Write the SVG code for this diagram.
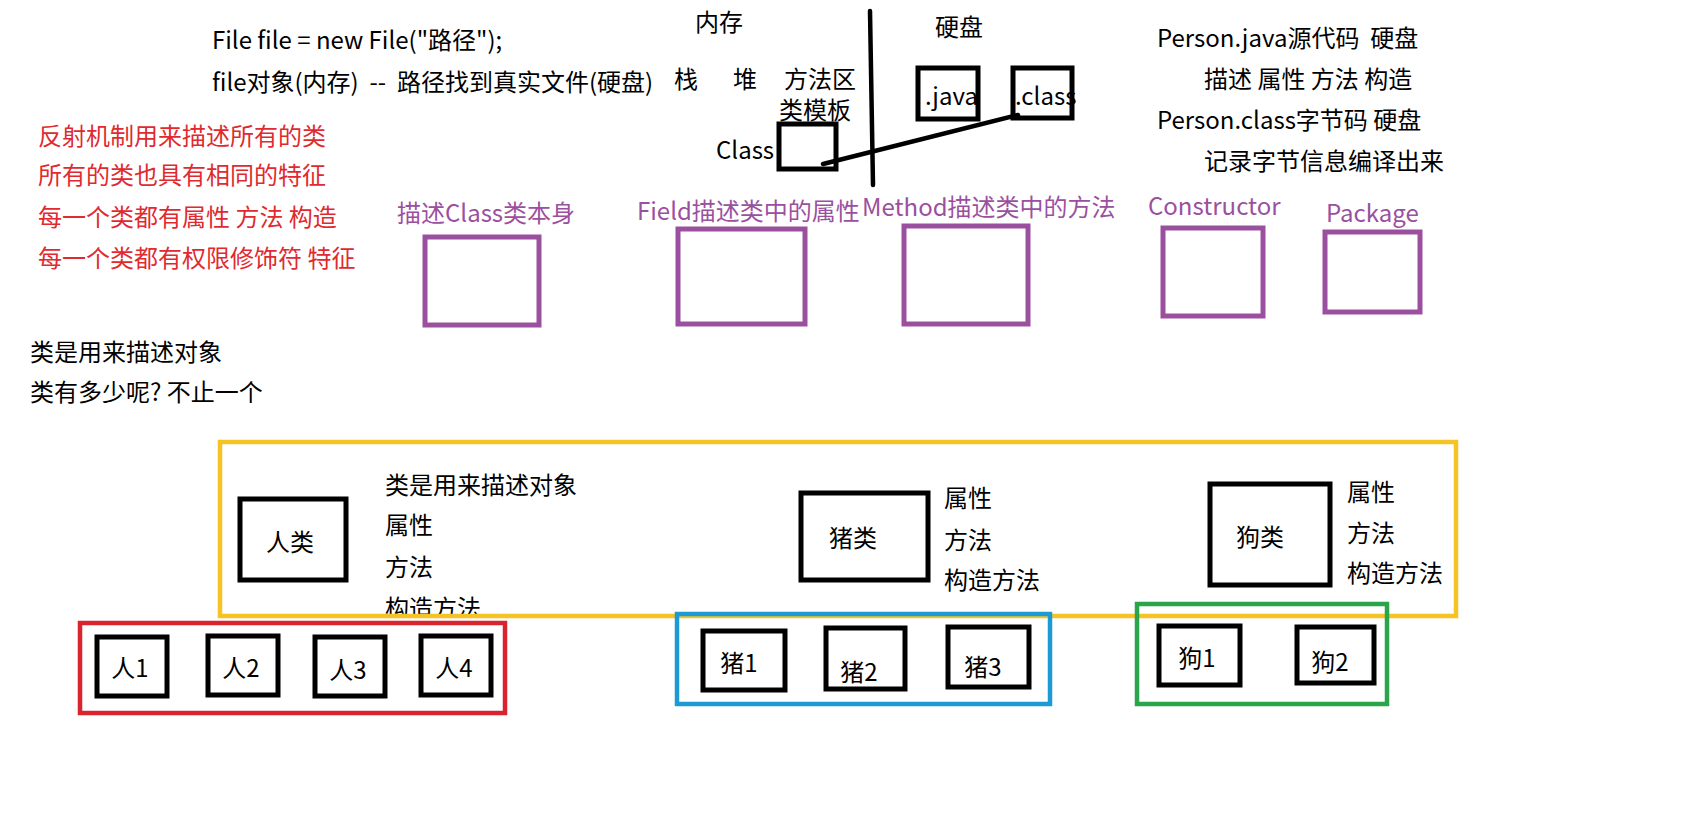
<svg xmlns="http://www.w3.org/2000/svg" width="1707" height="822" viewBox="0 0 1707 822">
<defs>
<style>
text{font-family:"Noto Sans CJK SC","Noto Sans",sans-serif;font-size:24px;fill:#000;white-space:pre}
.red{fill:#e02a2f}
.pur{fill:#9b509f}
.mid{text-anchor:middle}
.bk{fill:none;stroke:#000;stroke-width:5}
.pbox{fill:none;stroke:#9b509f;stroke-width:5}
.ln{stroke:#000;stroke-width:4.5;stroke-linecap:round;fill:none}
</style>
<clipPath id="clipY"><rect x="0" y="0" width="1707" height="614"/></clipPath>
</defs>
<rect width="1707" height="822" fill="#fff"/>

<g id="top-text">
<text x="212" y="49">File file = new File("路径");</text>
<text x="212" y="91">file对象(内存)  --  路径找到真实文件(硬盘)</text>
<text x="695" y="31">内存</text>
<text x="935" y="36">硬盘</text>
<text x="674" y="88">栈</text>
<text x="733" y="88">堆</text>
<text x="784" y="88">方法区</text>
<text x="779" y="119">类模板</text>
<text x="716" y="159">Class</text>
</g>

<g id="divider"><path class="ln" d="M870 11 L873 185"/></g>

<g id="class-box"><rect class="bk" x="779" y="124" width="57" height="45"/></g>
<g id="java-box"><rect class="bk" x="918" y="68" width="60" height="51"/><text x="925" y="105">.java</text></g>
<g id="classfile-box"><rect class="bk" x="1013" y="68" width="59" height="50"/><text x="1015" y="105">.class</text></g>

<g id="connectors"><path class="ln" d="M823 164 L1018 115"/></g>

<g id="right-text">
<text x="1157" y="47">Person.java源代码  硬盘</text>
<text x="1204" y="88">描述 属性 方法 构造</text>
<text x="1157" y="129">Person.class字节码 硬盘</text>
<text x="1204" y="170">记录字节信息编译出来</text>
</g>

<g id="red-text">
<text class="red" x="38" y="145">反射机制用来描述所有的类</text>
<text class="red" x="38" y="184">所有的类也具有相同的特征</text>
<text class="red" x="38" y="226">每一个类都有属性 方法 构造</text>
<text class="red" x="38" y="267">每一个类都有权限修饰符 特征</text>
</g>

<g id="class-self"><text class="pur" x="397" y="222">描述Class类本身</text><rect class="pbox" x="425" y="237" width="114" height="88"/></g>
<g id="field"><text class="pur" x="637" y="220">Field描述类中的属性</text><rect class="pbox" x="678" y="229" width="127" height="95"/></g>
<g id="method"><text class="pur" x="862" y="216">Method描述类中的方法</text><rect class="pbox" x="904" y="226" width="124" height="98"/></g>
<g id="constructor"><text class="pur" x="1148" y="215">Constructor</text><rect class="pbox" x="1163" y="228" width="100" height="88"/></g>
<g id="package"><text class="pur" x="1326" y="222">Package</text><rect class="pbox" x="1325" y="232" width="95" height="80"/></g>

<g id="left-text">
<text x="30" y="361">类是用来描述对象</text>
<text x="30" y="401">类有多少呢? 不止一个</text>
</g>

<g id="class-group">
<text x="385" y="494">类是用来描述对象</text>
<text x="385" y="534">属性</text>
<text x="385" y="576">方法</text>
<text x="385" y="617" clip-path="url(#clipY)">构造方法</text>
<rect x="220" y="442" width="1236" height="174" fill="none" stroke="#f6c324" stroke-width="4.5"/>
</g>

<g id="person-class"><rect class="bk" x="240" y="499" width="106" height="81"/><text class="mid" x="290" y="551">人类</text></g>
<g id="pig-class"><rect class="bk" x="801" y="493" width="127" height="87"/><text class="mid" x="853" y="547">猪类</text>
<text x="944" y="507">属性</text><text x="944" y="549">方法</text><text x="944" y="589">构造方法</text></g>
<g id="dog-class"><rect class="bk" x="1210" y="484" width="120" height="101"/><text class="mid" x="1260" y="546">狗类</text>
<text x="1347" y="501">属性</text><text x="1347" y="542">方法</text><text x="1347" y="582">构造方法</text></g>

<g id="persons">
<rect x="80" y="623" width="425" height="90" fill="none" stroke="#d9232e" stroke-width="4.5"/>
<rect class="bk" x="97" y="637" width="70" height="59"/><text class="mid" x="130" y="677">人1</text>
<rect class="bk" x="208" y="636" width="70" height="59"/><text class="mid" x="241" y="677">人2</text>
<rect class="bk" x="315" y="637" width="70" height="59"/><text class="mid" x="348" y="679">人3</text>
<rect class="bk" x="421" y="636" width="70" height="59"/><text class="mid" x="454" y="677">人4</text>
</g>

<g id="pigs">
<rect x="677" y="614" width="373" height="90" fill="none" stroke="#1c9ad6" stroke-width="4.5"/>
<rect class="bk" x="703" y="631" width="82" height="59"/><text class="mid" x="739" y="672">猪1</text>
<rect class="bk" x="826" y="628" width="79" height="61"/><text class="mid" x="859" y="681">猪2</text>
<rect class="bk" x="948" y="627" width="81" height="60"/><text class="mid" x="983" y="676">猪3</text>
</g>

<g id="dogs">
<rect x="1137" y="604" width="250" height="100" fill="none" stroke="#2aa54a" stroke-width="4.5"/>
<rect class="bk" x="1159" y="626" width="81" height="59"/><text class="mid" x="1197" y="667">狗1</text>
<rect class="bk" x="1297" y="627" width="77" height="56"/><text class="mid" x="1330" y="671">狗2</text>
</g>
</svg>
